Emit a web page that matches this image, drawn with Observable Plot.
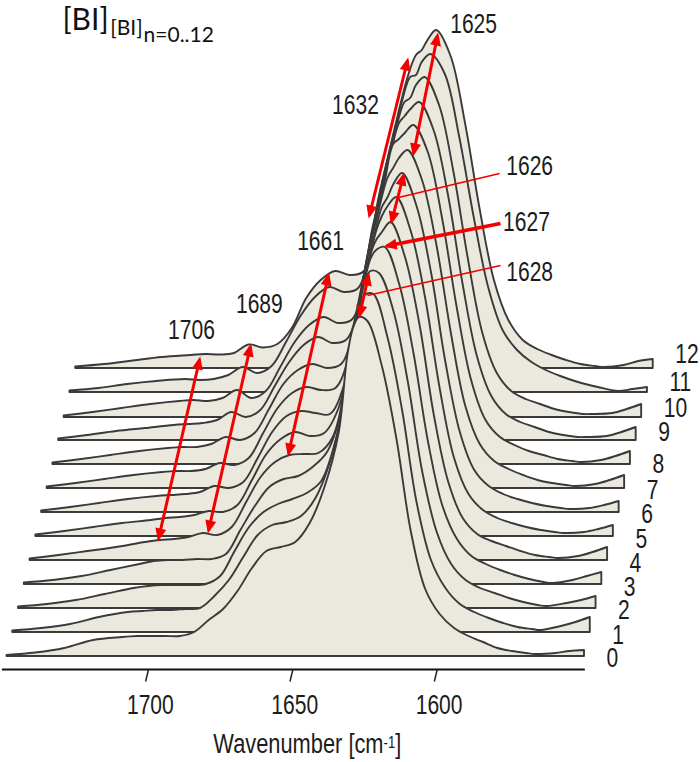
<!DOCTYPE html>
<html><head><meta charset="utf-8">
<script src="https://cdn.jsdelivr.net/npm/d3@7"></script>
<script src="https://cdn.jsdelivr.net/npm/@observablehq/plot@0.6"></script>
<style>html,body{margin:0;padding:0;background:#fff}svg{display:block}</style>
</head><body><div id="chart"></div>
<script>
const wavenumber=[1750,1740,1730,1720,1710,1705,1700,1695,1690,1685,1680,1675,1670,1665,1660,1655,1650,1645,1640,1635,1632,1630,1628,1625,1620,1615,1610,1605,1600,1595,1590,1585,1580,1575,1570,1567,1560,1555,1550];
const s0=[1,3.5,8,16,19,20,20,20,20,24,36,47,65,88,105,109,114,133,168,223,300,328,339,335,290,218,125,67,42,28,20,14,8,5,3,2,3,5,6];
const s1=[1.5,4,8,15,20,21,22,22,23,24,36,52,75,97,107,110,116,134,170,232,295,322,337,338,294,222,130,72,44,28,20,14,9,5,3,2,6,10,15];
const s2=[1.5,4,8,14,20,22,23,23,23,24,32,57,81,96,104,109,115,127,168,240,298,325,337,335,297,226,136,76,44,28,20,15,10,6,3,2,5,8,12];
const s3=[1.5,4,8,14,20,23,24,24,25,25,30,54,78,97,105,108,117,132,172,250,302,325,334,337,300,230,142,78,45,28,20,14,9,5,2,1,4,8,12];
const s4=[1.5,5,9,13,18,20,21,23,27,25,33,58,83,98,105,106,107,123,185,262,305,320,328,338,303,236,145,78,42,26,19,14,9,5,3,2,4,8,13];
const s5=[1.5,5,9,13,16,18,19,21,25,24,31,56,82,97,104,100,103,128,195,268,305,320,330,339,305,238,148,78,42,26,18,13,9,6,4,3,4,7,11];
const s6=[1.5,5,9,13,16,17,18,20,26,24,30,54,80,96,101,99,98,128,205,272,305,315,328,339,306,240,150,80,42,26,18,13,9,6,4,3,4,7,11];
const s7=[1.5,5,9,13,16,17,17,19,25,23,30,55,80,95,101,98,100,135,215,278,310,320,330,338,308,243,155,82,44,27,19,13,8,5,3,2,4,8,13];
const s8=[1.5,5,9,13,16,17,17,20,27,24,31,55,80,94,100,96,100,145,222,282,320,325,331,339,312,245,157,84,44,27,19,13,9,5,3,2,4,8,13];
const s9=[1.5,5,9,12,15,16,17,20,28,23,30,54,78,95,103,97,101,152,225,285,317,324,331,338,310,245,157,84,44,26,18,13,8,5,3,3,4,8,13];
const s10=[1.5,5,9,13,16,17,16,19,27,19,26,50,75,92,100,94,98,158,228,287,315,319,332,340,312,245,158,84,44,26,18,13,8,5,3,3,4,8,13];
const s11=[1.5,4,8,11,13,12,13,17,25,19,26,50,76,95,105,100,104,165,230,289,315,317,330,338,318,255,175,105,62,42,30,22,16,11,7,5,1,3,5];
const s12=[1.5,4,7.5,11,13,14,13.5,15,23.5,20.5,24,40,70,88,97,93,97,170,232,290,313,318,328,338,312,245,160,88,48,28,19,13,8,4,2,1,3,7,9];
const spectra=[s0,s1,s2,s3,s4,s5,s6,s7,s8,s9,s10,s11,s12];
const titration=["0","1","2","3","4","5","6","7","8","9","10","11","12"];
const stepX=[0,2,4,6,8,10,12,13.9,15.9,17.9,19.8,21.8,23.8];
const stepY=[0,24,48,72,96,120,144,168,192,216,239,264,288];
const stepLabelY=[-2,21,46,69,93,117,142,166,192,224,248,274,302];
const axisTicks=[1700,1650,1600];
const peakLabels=[["1625",1588.4,632],["1632",1629.3,551],["1626",1569,490],["1627",1570.1,434],["1628",1569,384],["1661",1641.4,415],["1689",1662.6,352],["1706",1686.1,326]];
const doubleArrows=[[1683.3,297,1697.5,118],[1665.7,310,1680.2,126],[1638.7,381,1652.5,203],[1611.3,596,1624.5,441],[1600.9,621,1609.2,503],[1612.7,481,1616.8,435],[1624.8,381,1627.9,341]];
const leaders=[[1579.4,483,1614.4,459],[1579.1,391,1625.2,361]];
const thickArrow=[[1579.1,433,1618.5,410.5]];

const font="'Liberation Sans',sans-serif";
const titleFont="Lato,'Open Sans',sans-serif";
const rows=[];
for(let n=12;n>=0;n--){wavenumber.forEach((w,i)=>rows.push({n,x:w-stepX[n],y1:stepY[n],y2:stepY[n]+spectra[n][i]}));}
const head=(color,context)=>{
  const m=d3.create("svg:marker").attr("viewBox","-13 -6 18 12").attr("markerWidth",18).attr("markerHeight",12)
    .attr("markerUnits","userSpaceOnUse").attr("orient","auto-start-reverse").attr("overflow","visible");
  m.append("path").attr("d","M-10,-5.5L3,0L-10,5.5Z").attr("fill",color).attr("stroke","none");
  return m.node();
};
const redLink=(data,opts)=>Plot.link(data,{x1:d=>d[0],y1:d=>d[1],x2:d=>d[2],y2:d=>d[3],stroke:"#f40000",...opts});
const txt=(data,opts)=>Plot.text(data,{fontFamily:font,fill:"#1c1c1c",className:"cond",...opts});
const chart=Plot.plot({
  width:700,height:762,marginTop:0,marginBottom:0,marginLeft:6.5,marginRight:116,
  x:{domain:[1750,1550],axis:null},
  y:{domain:[-106,656],range:[762,0],axis:null},
  marks:[
    Plot.areaY(rows,{x:"x",y1:"y1",y2:"y2",z:"n",fill:"#ebe8dd",stroke:"#3a3a3a",strokeWidth:1.9,curve:"catmull-rom",strokeLinejoin:"round"}),
    Plot.ruleY([-13],{x1:1751.6,x2:1549.7,stroke:"#111",strokeWidth:2.2}),
    Plot.link(axisTicks,{x1:d=>d+1,x2:d=>d+2,y1:-13,y2:-25,stroke:"#222",strokeWidth:1.5}),
    txt(axisTicks,{x:d=>d,y:-49,text:d=>String(d),fontSize:27,dx:-1}),
    txt(["Wavenumber [cm-1]"],{x:1646,y:-88,text:d=>d,fontSize:28,className:"cond xlabel"}),
    txt(titration,{x:(d,i)=>1550-stepX[i],y:(d,i)=>stepLabelY[i],text:d=>d,dx:22,textAnchor:"start",fontSize:27}),
    redLink(doubleArrows,{strokeWidth:3,markerStart:head,markerEnd:head}),
    redLink(leaders,{strokeWidth:1.5}),
    redLink(thickArrow,{strokeWidth:3.5,markerEnd:head}),
    txt(peakLabels,{x:d=>d[1],y:d=>d[2],text:d=>d[0],fontSize:27}),
    Plot.text(["[BI]"],{x:1730.8,y:636,text:d=>d,textAnchor:"start",fontFamily:titleFont,fontSize:30,fill:"#111"}),
    Plot.text(["[BI]"],{x:1714.2,y:628,text:d=>d,textAnchor:"start",fontFamily:titleFont,fontSize:21,fill:"#111"}),
    Plot.text(["n=0..12"],{x:1702.7,y:621,text:d=>d,textAnchor:"start",fontFamily:titleFont,fontSize:21,fill:"#111"})
  ]
});
d3.select(chart).selectAll(".xlabel text").each(function(){
  const t=d3.select(this);t.text(null);
  t.append("tspan").text("Wavenumber [cm");
  t.append("tspan").attr("dy","-0.35em").attr("font-size","0.6em").text("-1");
  t.append("tspan").attr("dy","0.21em").text("]");
});
d3.select(chart).selectAll(".cond text").each(function(){
  const t=this.getAttribute("transform")||"";
  this.setAttribute("transform",t+" scale(0.78,1)");
});
document.getElementById("chart").append(chart);
</script></body></html>
